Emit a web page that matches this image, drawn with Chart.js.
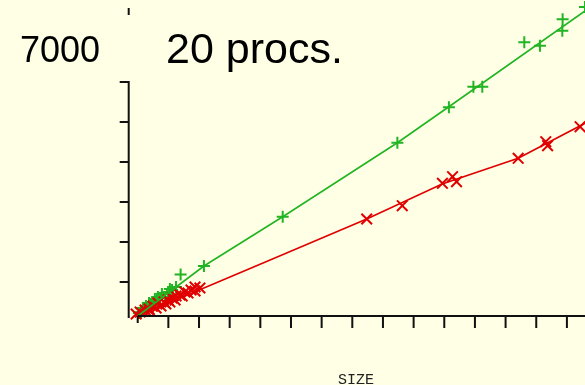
<!DOCTYPE html>
<html>
<head>
<meta charset="utf-8">
<script src="https://cdn.jsdelivr.net/npm/chart.js@4.4.0/dist/chart.umd.min.js"></script>
<style>
  html, body { margin: 0; padding: 0; background: #ffffe6; }
  #wrap { width: 585px; height: 385px; }
</style>
</head>
<body>
<div id="wrap"><canvas id="chart" width="585" height="385"></canvas></div>
<script>
// values (SIZE vs time)
const greenSize = [4, 11, 17, 21, 27, 30, 37, 40, 47, 50, 56, 63, 66, 73, 79, 89, 99, 105, 112, 125, 140, 216, 473, 847, 1015, 1095, 1124, 1261, 1312, 1385, 1386, 1459];
const greenTime = [225, 250, 350, 300, 400, 350, 475, 400, 500, 450, 575, 550, 625, 600, 700, 625, 750, 825, 800, 875, 1188, 1400, 2632, 4482, 5367, 5882, 5882, 6992, 6907, 7282, 7567, 7875];

const redSize = [-15, -5, 8, 24, 37, 40, 50, 60, 66, 76, 86, 92, 99, 105, 112, 122, 125, 138, 145, 154, 164, 174, 187, 187, 203, 747, 863, 994, 1027, 1040, 1241, 1331, 1337, 1443];
const redTime = [250, 200, 250, 300, 325, 275, 400, 350, 475, 400, 500, 450, 550, 500, 600, 550, 650, 675, 650, 750, 725, 800, 875, 775, 850, 2575, 2907, 3467, 3632, 3507, 4092, 4507, 4407, 4882];

// fitted curves
const greenFitSize = [0, 216, 473, 847, 1015, 1459];
const greenFitTime = [150, 1400, 2632, 4482, 5382, 7775];
const redFitSize = [0, 432, 747, 993, 1241, 1459];
const redFitTime = [150, 1550, 2575, 3450, 4092, 4967];

const yTicks = [1000, 2000, 3000, 4000, 5000, 6000];
const xTicks = [0, 100, 200, 300, 400, 500, 600, 700, 800, 900, 1000, 1100, 1200, 1300, 1400];
const topLabel = '7000';
const title = '20 procs.';
const xTitle = 'SIZE';

const GREEN = '#22b422';
const RED = '#e00000';

function pts(xs, ys) {
    return xs.map((x, i) => ({ x: x, y: ys[i] }));
}

// axes, ticks and texts drawn by hand in gnuplot style
const frame = {
    id: 'frame',
    beforeDraw(chart) {
        const ctx = chart.ctx;
        ctx.save();
        ctx.fillStyle = '#ffffe6';
        ctx.fillRect(0, 0, chart.width, chart.height);
        ctx.restore();
    },
    afterDraw(chart) {
        const ctx = chart.ctx;
        const xs = chart.scales.x;
        const ys = chart.scales.y;
        const area = chart.chartArea;
        const axisX = area.left - 9;

        ctx.save();
        ctx.strokeStyle = '#111';
        ctx.lineWidth = 2;

        // y axis
        ctx.beginPath();
        ctx.moveTo(axisX, ys.getPixelForValue(6000));
        ctx.lineTo(axisX, area.bottom + 2);
        ctx.moveTo(axisX, 8);
        ctx.lineTo(axisX, 15);
        yTicks.forEach(v => {
            const py = ys.getPixelForValue(v);
            ctx.moveTo(axisX - 9, py);
            ctx.lineTo(axisX + 1, py);
        });
        ctx.stroke();

        // x axis
        ctx.beginPath();
        ctx.moveTo(area.left, area.bottom);
        ctx.lineTo(area.right, area.bottom);
        xTicks.forEach((v, i) => {
            const px = xs.getPixelForValue(v);
            ctx.moveTo(px, area.bottom);
            ctx.lineTo(px, area.bottom + (i === 0 ? 7 : 12));
        });
        ctx.stroke();

        ctx.fillStyle = '#000';
        ctx.textBaseline = 'alphabetic';
        ctx.textAlign = 'left';
        ctx.font = '36px "Liberation Sans", Arial, sans-serif';
        ctx.fillText(topLabel, 20, 62);
        ctx.font = '43px "Liberation Sans", Arial, sans-serif';
        ctx.fillText(title, 166, 63);

        ctx.textAlign = 'center';
        ctx.font = '15px "Liberation Mono", "Courier New", monospace';
        ctx.fillStyle = '#222';
        ctx.fillText(xTitle, 356, 384);
        ctx.restore();
    }
};

document.addEventListener('DOMContentLoaded', () => {
    const ctx = document.getElementById('chart').getContext('2d');
    new Chart(ctx, {
        type: 'scatter',
        data: {
            datasets: [
                {
                    data: pts(greenFitSize, greenFitTime),
                    showLine: true,
                    borderColor: GREEN,
                    borderWidth: 1.6,
                    pointRadius: 0,
                    tension: 0
                },
                {
                    data: pts(redFitSize, redFitTime),
                    showLine: true,
                    borderColor: RED,
                    borderWidth: 1.6,
                    pointRadius: 0,
                    tension: 0
                },
                {
                    data: pts(redSize, redTime),
                    pointStyle: 'crossRot',
                    pointRadius: 7.5,
                    borderColor: RED,
                    borderWidth: 2,
                    showLine: false
                },
                {
                    data: pts(greenSize, greenTime),
                    pointStyle: 'cross',
                    pointRadius: 6,
                    borderColor: GREEN,
                    borderWidth: 2,
                    showLine: false
                }
            ]
        },
        options: {
            responsive: false,
            animation: false,
            clip: false,
            layout: { autoPadding: false, padding: { left: 137.7, right: 0, top: 0, bottom: 69 } },
            plugins: { legend: { display: false }, tooltip: { enabled: false } },
            scales: {
                x: { type: 'linear', min: 0, max: 1459, display: false },
                y: { type: 'linear', min: 150, max: 8050, display: false }
            }
        },
        plugins: [frame]
    });
});
</script>
</body>
</html>
